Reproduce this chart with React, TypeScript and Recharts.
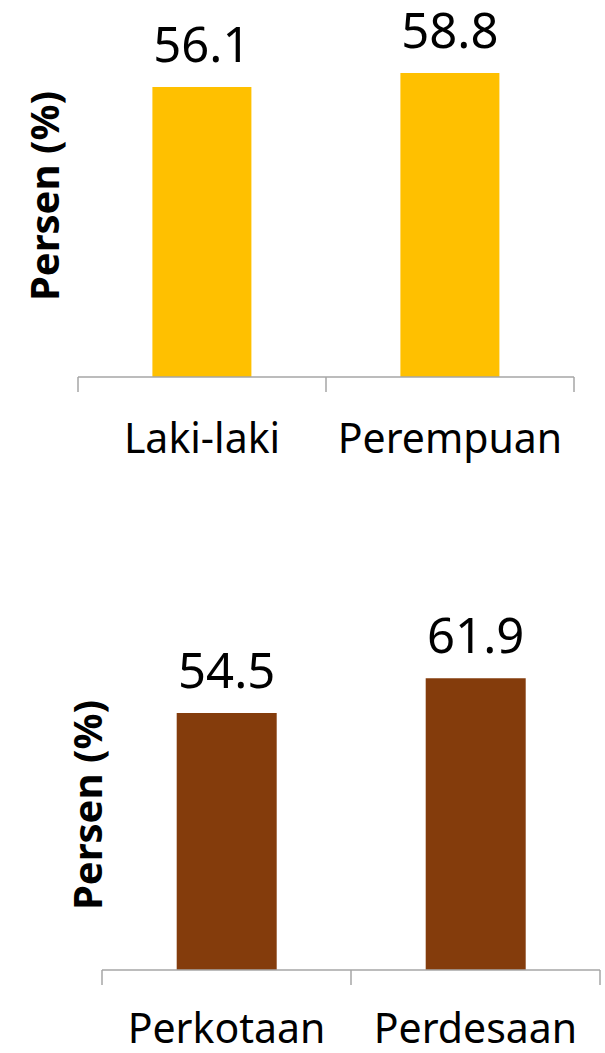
import React from "react";
import { BarChart, Bar, XAxis, YAxis, LabelList } from "recharts";

// data
const GENDER_LABELS = ["Laki-laki", "Perempuan"];
const GENDER_VALUES = [56.1, 58.8];
const AREA_LABELS = ["Perkotaan", "Perdesaan"];
const AREA_VALUES = [54.5, 61.9];
const Y_DOMAIN: [number, number] = [0, 70];
const Y_TITLE = "Persen (%)";
// integer ticks sit between categories, half ticks carry the names
const BOUNDARY_TICKS = [0, 0.5, 1, 1.5, 2];

const FONT = '"Noto Sans", "Open Sans", sans-serif';
const AXIS_COLOR = "#a6a6a6";

type PanelProps = {
  labels: string[];
  values: number[];
  color: string;
  top: number;
  height: number;
  axisHeight: number;
  labelOffset: number;
  margin: { top: number; right: number; bottom: number; left: number };
  yAxisWidth: number;
  titleDx: number;
};

const makeTick = (labels: string[], labelOffset: number) => (props: any) => {
  const { x, y, payload } = props;
  const v = Number(payload.value);
  if (Number.isInteger(v)) {
    return (
      <line x1={x} y1={y} x2={x} y2={y + 15} stroke={AXIS_COLOR} strokeWidth={1.5} />
    );
  }
  return (
    <text
      x={x}
      y={y + labelOffset}
      textAnchor="middle"
      fill="#000"
      fontFamily={FONT}
      fontSize={41}
    >
      {labels[Math.floor(v)]}
    </text>
  );
};

function Panel({
  labels,
  values,
  color,
  top,
  height,
  axisHeight,
  labelOffset,
  margin,
  yAxisWidth,
  titleDx,
}: PanelProps) {
  const data = labels.map((name, i) => ({ name, value: values[i], pos: i + 0.5 }));
  return (
    <div style={{ position: "absolute", left: 0, top, width: 605, height }}>
      <BarChart width={605} height={height} data={data} margin={margin} barCategoryGap="30%">
        <XAxis xAxisId="cat" dataKey="name" hide height={0} />
        <XAxis
          xAxisId="num"
          dataKey="pos"
          type="number"
          domain={[0, labels.length]}
          ticks={BOUNDARY_TICKS}
          allowDataOverflow
          interval={0}
          height={axisHeight}
          axisLine={{ stroke: AXIS_COLOR, strokeWidth: 1.5 }}
          tickLine={false}
          tickSize={0}
          tickMargin={0}
          tick={makeTick(labels, labelOffset)}
        />
        <YAxis
          domain={Y_DOMAIN}
          width={yAxisWidth}
          axisLine={false}
          tickLine={false}
          tick={false}
          label={{
            value: Y_TITLE,
            angle: -90,
            position: "center",
            dx: titleDx,
            style: { fontFamily: FONT, fontSize: 40, fontWeight: 700, fill: "#000" },
          }}
        />
        <Bar xAxisId="cat" dataKey="value" fill={color} isAnimationActive={false}>
          <LabelList
            dataKey="value"
            position="top"
            offset={25}
            formatter={(v: any) => Number(v).toFixed(1)}
            style={{ fontFamily: FONT, fontSize: 49, fill: "#000" }}
          />
        </Bar>
      </BarChart>
    </div>
  );
}

export default function App() {
  return (
    <div
      style={{
        position: "absolute",
        left: 0,
        top: 0,
        width: 605,
        height: 1053,
        background: "#fff",
        overflow: "hidden",
      }}
    >
      <Panel
        labels={GENDER_LABELS}
        values={GENDER_VALUES}
        color="#FFC000"
        top={0}
        height={500}
        axisHeight={100}
        labelOffset={76}
        margin={{ top: 15, right: 31, bottom: 23, left: 0 }}
        yAxisWidth={78}
        titleDx={6}
      />
      <Panel
        labels={AREA_LABELS}
        values={AREA_VALUES}
        color="#843C0C"
        top={500}
        height={553}
        axisHeight={60}
        labelOffset={73}
        margin={{ top: 140, right: 5, bottom: 23, left: 0 }}
        yAxisWidth={102}
        titleDx={37}
      />
    </div>
  );
}
